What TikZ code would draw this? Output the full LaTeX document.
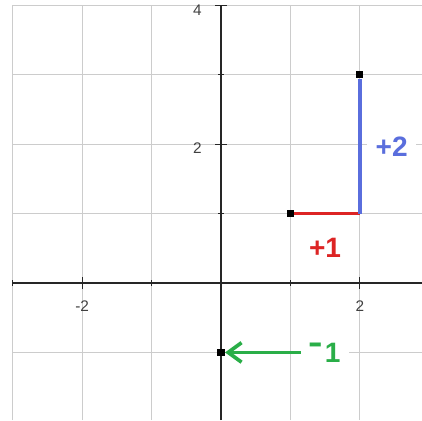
\documentclass[tikz,border=0pt]{standalone}
\usepackage{fontspec}
\setmainfont{Liberation Sans}
\usepackage{xcolor}
\usepackage{tikz}
\usetikzlibrary{arrows.meta,positioning}

\definecolor{stepred}{HTML}{DD2424}
\definecolor{stepblue}{HTML}{5A6EDD}
\definecolor{stepgreen}{HTML}{2AAE48}
\definecolor{gridgray}{HTML}{CCCCCC}

\begin{document}
\begin{tikzpicture}[
  gridline/.style={draw=gridgray, line width=0.45pt},
  axisline/.style={draw=black!85, line width=0.5pt},
  ticklbl/.style={inner sep=0pt, text=black!75, font=\fontsize{6.3}{7}\selectfont},
  dot/.style={fill=black, inner sep=0pt, minimum size=2.9pt},
  steplbl/.style={fill=white, inner sep=3.5pt, font=\bfseries\fontsize{11.5}{13}\selectfont},
  seg/.style={line width=1.5pt},
  arrow/.style={-{Straight Barb[length=5.5pt, width=8pt]}, line width=1.5pt}
]
\useasboundingbox (-3.184,-1.974) rectangle (2.896,4.078);

% grid and axes
\draw[gridline] (-3,-1.974) grid (2.896,4);
\draw[axisline] (-3,0) -- (2.896,0);
\draw[axisline] (0,-1.974) -- (0,4);
\foreach \x in {-3,-1,1} {\draw[axisline] (\x,-0.04) -- (\x,0.04);}
\foreach \x in {-2,2} {\draw[axisline] (\x,-0.08) -- (\x,0.08);}
\foreach \y in {-1,1,3} {\draw[axisline] (-0.04,\y) -- (0.04,\y);}
\foreach \y in {2,4} {\draw[axisline] (-0.08,\y) -- (0.08,\y);}

\node[ticklbl, anchor=east] (ytwo) at (-0.27,1.95) {2};
\node[ticklbl, anchor=east] (yfour) at (-0.27,3.93) {4};
\node[ticklbl] (xmtwo) at (-2,-0.33) {-2};
\node[ticklbl] (xtwo) at (2,-0.33) {2};

% steps
\node[dot] (start) at (1,1) {};
\coordinate (corner) at (2,1);
\node[dot] (finish) at (2,3) {};
\node[dot] (target) at (0,-1) {};
\draw[seg, stepred] (start) -- (corner);
\draw[seg, stepblue] (corner) -- (finish);

\node[steplbl, text=stepred] (plusone) at (1.5,0.51) {+1};
\node[steplbl, text=stepblue] (plustwo) at (2.46,1.97) {+2};
\node[steplbl, text=stepgreen] (minusone) at (1.5,-1) {\raisebox{2.6pt}{\scalebox{0.8}[1.4]{\textendash}}\hspace{1pt}1};
\draw[arrow, stepgreen] (minusone) -- (target);
\end{tikzpicture}
\end{document}
